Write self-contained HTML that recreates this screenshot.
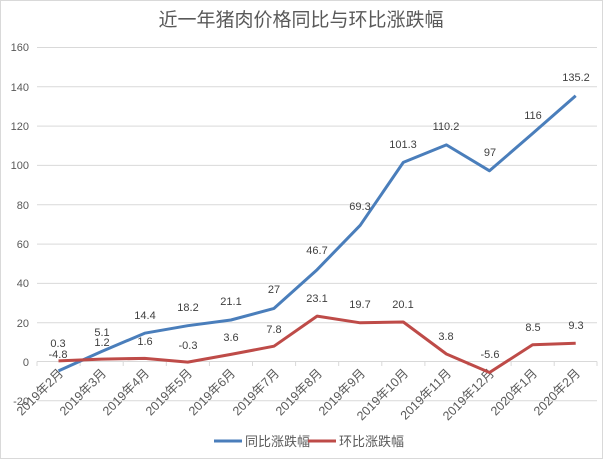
<!DOCTYPE html>
<html><head><meta charset="utf-8"><style>
html,body{margin:0;padding:0;background:#fff}
svg{display:block;font-family:"Liberation Sans","Noto Sans CJK SC",sans-serif}
</style></head><body>
<svg width="603" height="459" viewBox="0 0 603 459" xmlns="http://www.w3.org/2000/svg">
<rect x="0.5" y="0.5" width="602" height="458" fill="#fff" stroke="#d9d9d9"/>
<text x="301" y="26" font-size="19" fill="#595959" text-anchor="middle">近一年猪肉价格同比与环比涨跌幅</text>
<g stroke="#d9d9d9" stroke-width="1">
<line x1="37" y1="47.5" x2="597" y2="47.5"/>
<line x1="37" y1="86.8" x2="597" y2="86.8"/>
<line x1="37" y1="126.1" x2="597" y2="126.1"/>
<line x1="37" y1="165.4" x2="597" y2="165.4"/>
<line x1="37" y1="204.8" x2="597" y2="204.8"/>
<line x1="37" y1="244.1" x2="597" y2="244.1"/>
<line x1="37" y1="283.4" x2="597" y2="283.4"/>
<line x1="37" y1="322.7" x2="597" y2="322.7"/>
<line x1="37" y1="400.8" x2="597" y2="400.8"/>
<line x1="37" y1="361.5" x2="597" y2="361.5"/>
</g>
<g stroke="#d9d9d9">
<line x1="37" y1="361.5" x2="37" y2="366"/><line x1="80.1" y1="361.5" x2="80.1" y2="366"/><line x1="123.2" y1="361.5" x2="123.2" y2="366"/><line x1="166.3" y1="361.5" x2="166.3" y2="366"/><line x1="209.4" y1="361.5" x2="209.4" y2="366"/><line x1="252.5" y1="361.5" x2="252.5" y2="366"/><line x1="295.6" y1="361.5" x2="295.6" y2="366"/><line x1="338.7" y1="361.5" x2="338.7" y2="366"/><line x1="381.8" y1="361.5" x2="381.8" y2="366"/><line x1="424.9" y1="361.5" x2="424.9" y2="366"/><line x1="468" y1="361.5" x2="468" y2="366"/><line x1="511.1" y1="361.5" x2="511.1" y2="366"/><line x1="554.2" y1="361.5" x2="554.2" y2="366"/><line x1="597" y1="361.5" x2="597" y2="366"/>
</g>
<g font-size="11" fill="#595959" text-anchor="end">
<text x="29" y="51">160</text><text x="29" y="91">140</text><text x="29" y="130">120</text><text x="29" y="169">100</text><text x="29" y="209">80</text><text x="29" y="248">60</text><text x="29" y="287">40</text><text x="29" y="327">20</text><text x="29" y="366">0</text><text x="29" y="405">-20</text>
</g>
<g font-size="12.5" fill="#595959" text-anchor="end">
<text transform="translate(64,374) rotate(-45)">2019年2月</text>
<text transform="translate(107,374) rotate(-45)">2019年3月</text>
<text transform="translate(150,374) rotate(-45)">2019年4月</text>
<text transform="translate(193,374) rotate(-45)">2019年5月</text>
<text transform="translate(236,374) rotate(-45)">2019年6月</text>
<text transform="translate(280,374) rotate(-45)">2019年7月</text>
<text transform="translate(323,374) rotate(-45)">2019年8月</text>
<text transform="translate(366,374) rotate(-45)">2019年9月</text>
<text transform="translate(409,374) rotate(-45)">2019年10月</text>
<text transform="translate(452,374) rotate(-45)">2019年11月</text>
<text transform="translate(495,374) rotate(-45)">2019年12月</text>
<text transform="translate(538,374) rotate(-45)">2020年1月</text>
<text transform="translate(581,374) rotate(-45)">2020年2月</text>
</g>
<polyline fill="none" stroke="#4a7ebb" stroke-width="3" stroke-linejoin="round" points="58.5,370.9 101.6,351.5 144.7,333.2 187.8,325.7 230.9,320.0 274,308.4 317.1,269.7 360.2,225.3 403.3,162.4 446.4,144.9 489.5,170.8 532.6,133.5 575.7,95.7"/>
<polyline fill="none" stroke="#be4b48" stroke-width="3" stroke-linejoin="round" points="58.5,360.9 101.6,359.1 144.7,358.4 187.8,362.1 230.9,354.4 274,346.2 317.1,316.1 360.2,322.8 403.3,322.0 446.4,354.0 489.5,372.5 532.6,344.8 575.7,343.2"/>
<g font-size="11" fill="#404040" text-anchor="middle">
<text x="58" y="347">0.3</text><text x="58" y="358">-4.8</text>
<text x="102" y="336">5.1</text><text x="102" y="346">1.2</text>
<text x="145" y="319">14.4</text><text x="145" y="345">1.6</text>
<text x="188" y="311">18.2</text><text x="188" y="349">-0.3</text>
<text x="231" y="305">21.1</text><text x="231" y="341">3.6</text>
<text x="274" y="293">27</text><text x="274" y="333">7.8</text>
<text x="317" y="254">46.7</text><text x="317" y="302">23.1</text>
<text x="360" y="210">69.3</text><text x="360" y="308">19.7</text>
<text x="403" y="148">101.3</text><text x="403" y="308">20.1</text>
<text x="446" y="130">110.2</text><text x="446" y="340">3.8</text>
<text x="490" y="156">97</text><text x="490" y="358">-5.6</text>
<text x="533" y="119">116</text><text x="533" y="331">8.5</text>
<text x="576" y="81">135.2</text><text x="576" y="329">9.3</text>
</g>
<line x1="214" y1="441" x2="242" y2="441" stroke="#4a7ebb" stroke-width="3"/>
<text x="245" y="446" font-size="13" fill="#595959">同比涨跌幅</text>
<line x1="308" y1="441" x2="336" y2="441" stroke="#be4b48" stroke-width="3"/>
<text x="339" y="446" font-size="13" fill="#595959">环比涨跌幅</text>
</svg>
</body></html>
